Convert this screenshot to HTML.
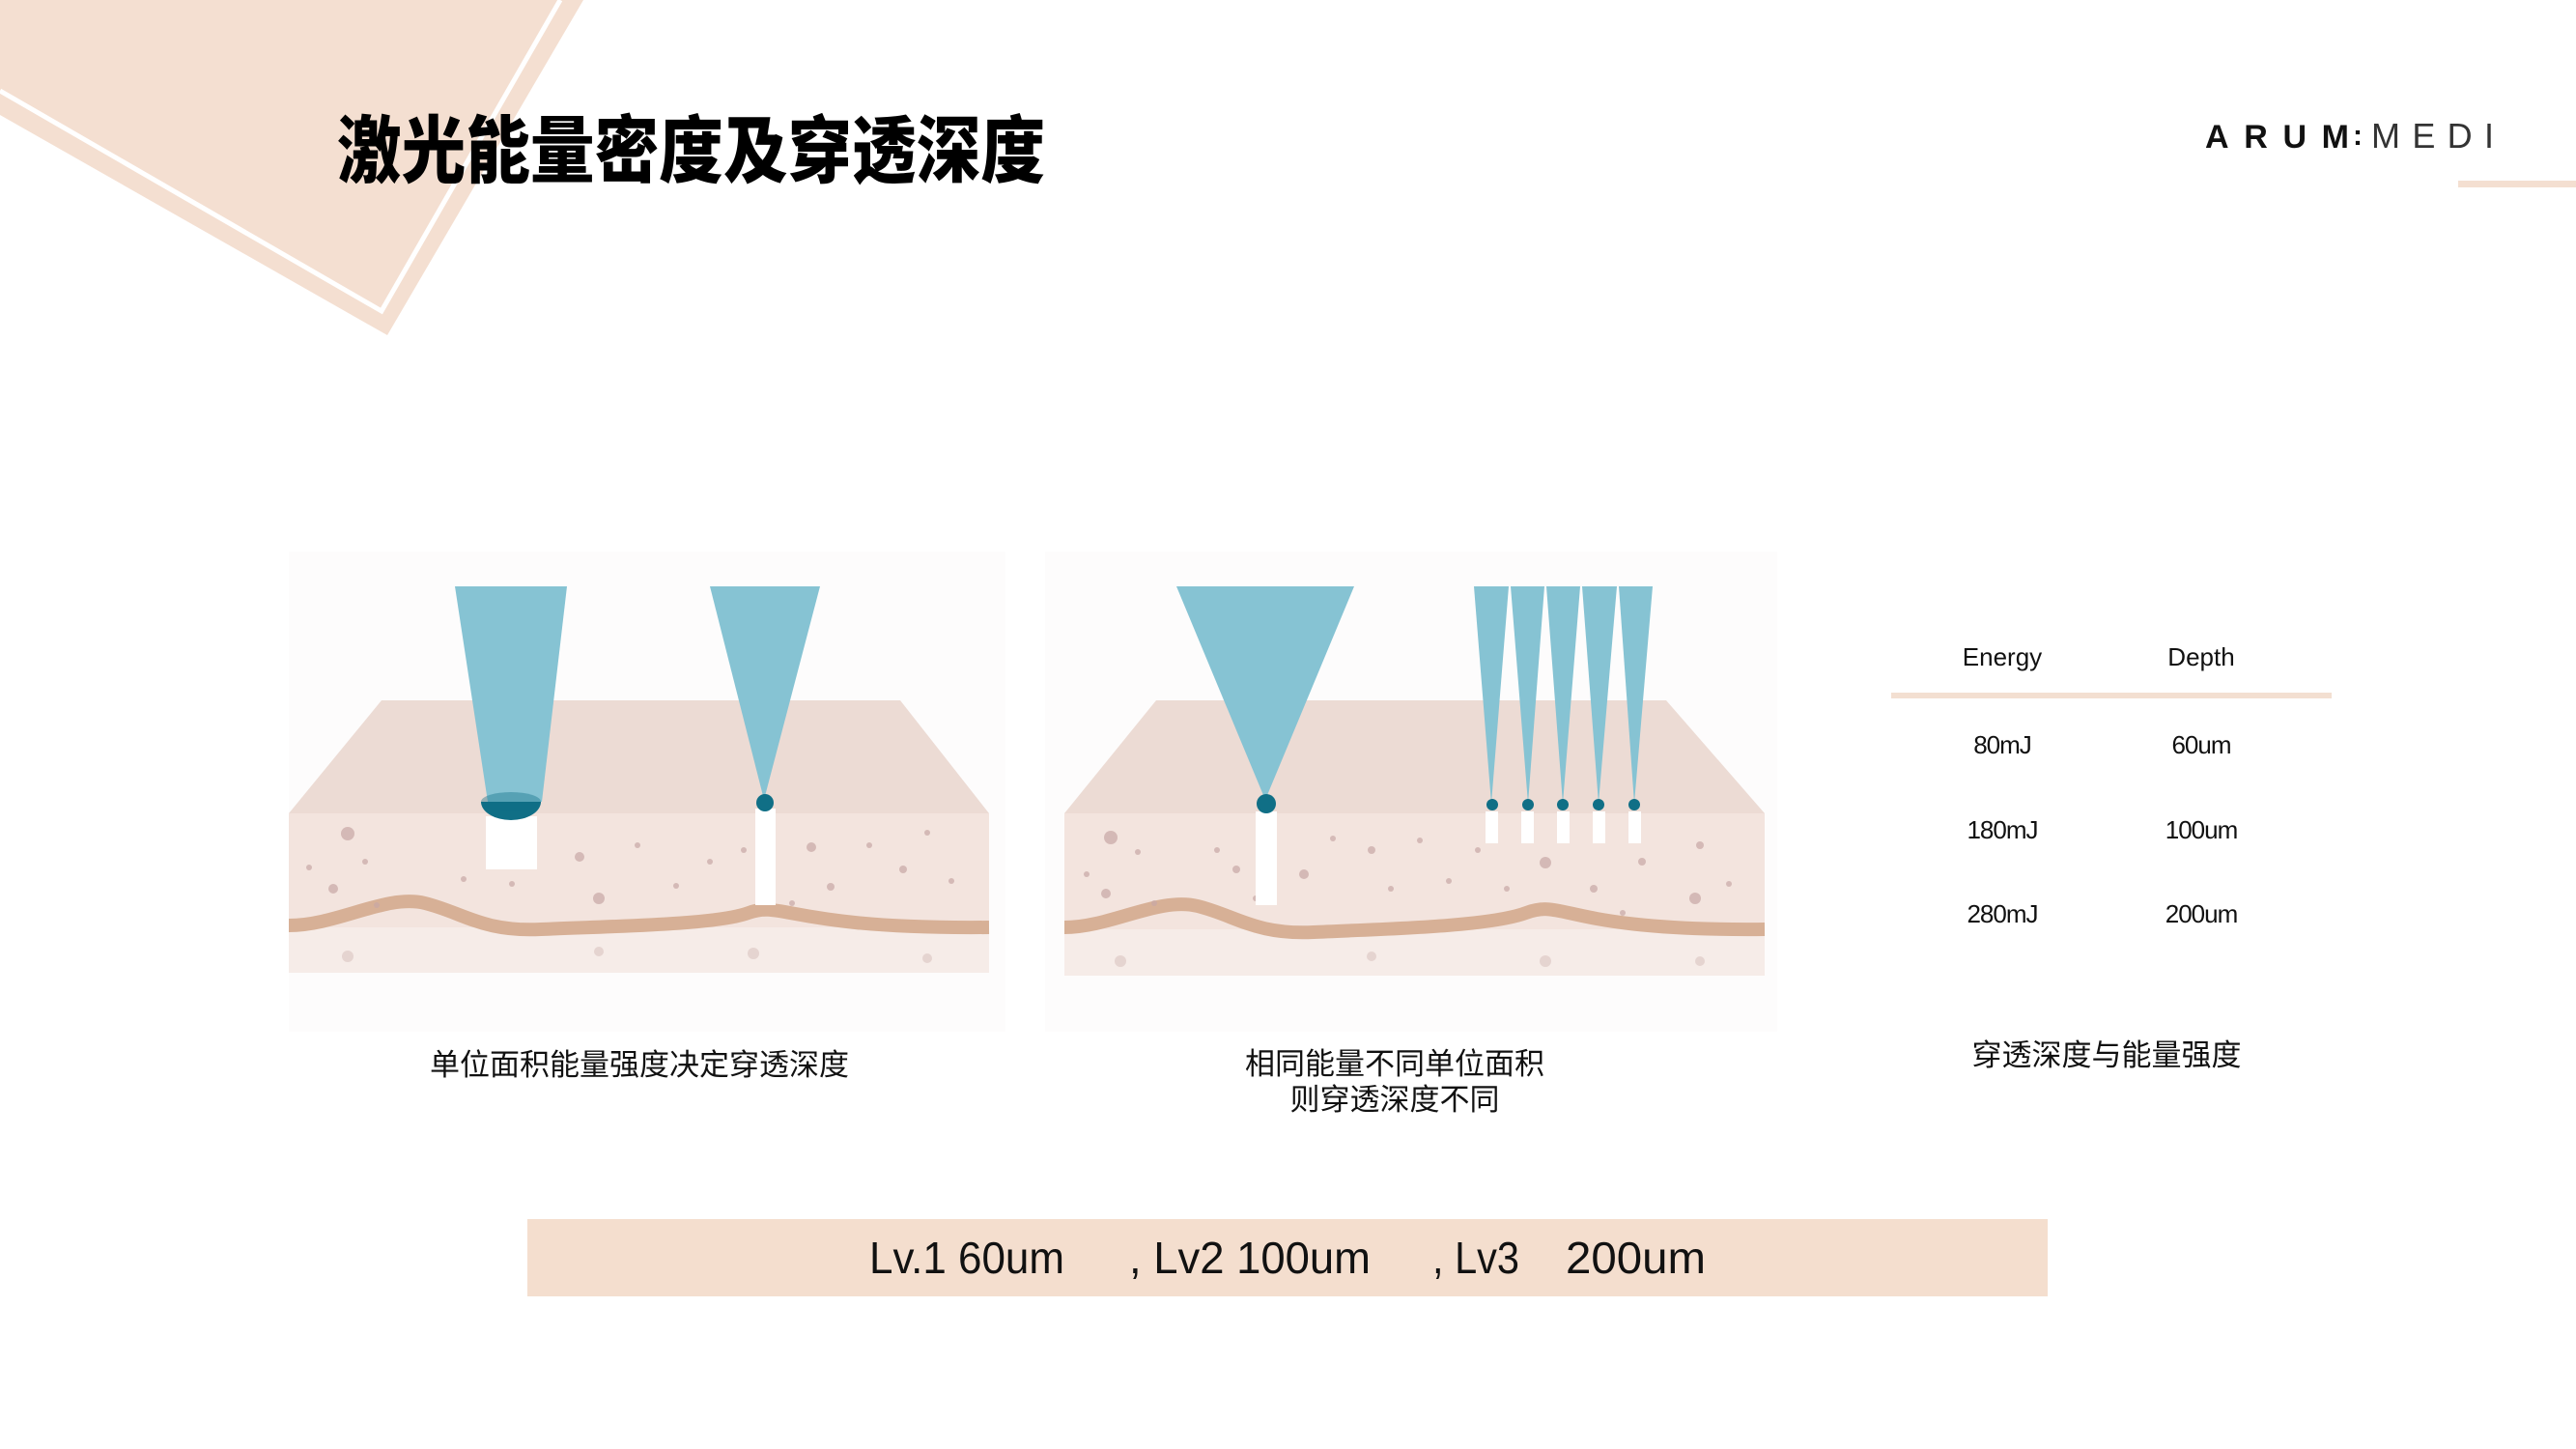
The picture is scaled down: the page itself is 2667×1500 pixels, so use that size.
<!DOCTYPE html>
<html><head><meta charset="utf-8"><style>
html,body{margin:0;padding:0;background:#fff;}
svg{display:block;}
text{font-family:"Liberation Sans","Noto Sans CJK SC",sans-serif;}
</style></head><body>
<svg width="2667" height="1500" viewBox="0 0 2667 1500" xmlns="http://www.w3.org/2000/svg">
<polygon points="0,0 604,0 401,347 0,119" fill="#f4dfd1"/>
<polyline points="0,94 395,322 580,0" fill="none" stroke="#fff" stroke-width="5"/>
<text x="349" y="183" font-size="76" font-weight="900" textLength="733" lengthAdjust="spacingAndGlyphs" fill="#000" style="font-family:'Noto Sans CJK SC',sans-serif">激光能量密度及穿透深度</text>
<text x="2283" y="153" font-size="34" font-weight="bold" textLength="149" lengthAdjust="spacing" fill="#111">ARUM</text>
<text x="2436" y="150" font-size="30" font-weight="bold" fill="#111">:</text>
<text x="2455" y="153" font-size="36" textLength="127" lengthAdjust="spacing" fill="#333" style="font-weight:300">MEDI</text>
<rect x="2545" y="187" width="122" height="7" fill="#f4dfd1"/>

<rect x="299" y="571" width="742" height="497" fill="#fdfcfc"/>
<polygon points="395,725 932,725 1024,842 299,842" fill="#ecdbd4"/>
<rect x="299" y="842" width="725" height="165" fill="#f3e4de"/>
<rect x="299" y="960" width="725" height="47" fill="#f6ece8"/>
<path d="M299 958 C350 958,400 925,440 935 S500 965,560 962 S740 958,775 945 S820 962,1024 960" fill="none" stroke="#d7b096" stroke-width="14"/>
<g fill="#c8a8a6" opacity="0.7">
<circle cx="360" cy="863" r="7"/><circle cx="378" cy="892" r="3"/><circle cx="320" cy="898" r="3"/><circle cx="345" cy="920" r="5"/><circle cx="390" cy="937" r="3"/>
<circle cx="480" cy="910" r="3"/><circle cx="530" cy="915" r="3"/><circle cx="600" cy="887" r="5"/><circle cx="620" cy="930" r="6"/><circle cx="660" cy="875" r="3"/>
<circle cx="700" cy="917" r="3"/><circle cx="735" cy="892" r="3"/><circle cx="770" cy="880" r="3"/><circle cx="840" cy="877" r="5"/><circle cx="860" cy="918" r="4"/>
<circle cx="900" cy="875" r="3"/><circle cx="935" cy="900" r="4"/><circle cx="960" cy="862" r="3"/><circle cx="985" cy="912" r="3"/><circle cx="820" cy="935" r="3"/>
<circle cx="360" cy="990" r="6" opacity=".5"/><circle cx="620" cy="985" r="5" opacity=".5"/><circle cx="780" cy="987" r="6" opacity=".5"/><circle cx="960" cy="992" r="5" opacity=".5"/>
</g>
<polygon points="471,607 587,607 561,830 505,830" fill="#86c3d3"/>
<rect x="503" y="845" width="53" height="55" fill="#fff"/>
<path d="M498 830 A31 19 0 0 0 560 830 Z" fill="#106f86"/>
<ellipse cx="529" cy="830" rx="31" ry="10" fill="#106f86" opacity="0.4"/>
<polygon points="735,607 849,607 791,828" fill="#86c3d3"/>
<rect x="782" y="837" width="21" height="100" fill="#fff"/>
<circle cx="792" cy="831" r="9" fill="#106f86"/>
<text x="662" y="1113" font-size="31" text-anchor="middle" fill="#111">单位面积能量强度决定穿透深度</text>

<rect x="1082" y="571" width="758" height="497" fill="#fdfcfc"/>
<polygon points="1197,725 1725,725 1827,842 1102,842" fill="#ecdbd4"/>
<rect x="1102" y="842" width="725" height="168" fill="#f3e4de"/>
<rect x="1102" y="962" width="725" height="48" fill="#f6ece8"/>
<path d="M1102 960 C1150 960,1200 928,1240 938 S1300 968,1360 965 S1540 960,1580 945 S1620 964,1827 962" fill="none" stroke="#d7b096" stroke-width="14"/>
<g fill="#c8a8a6" opacity="0.7">
<circle cx="1150" cy="867" r="7"/><circle cx="1178" cy="882" r="3"/><circle cx="1125" cy="905" r="3"/><circle cx="1145" cy="925" r="5"/><circle cx="1195" cy="935" r="3"/>
<circle cx="1260" cy="880" r="3"/><circle cx="1280" cy="900" r="4"/><circle cx="1300" cy="930" r="3"/><circle cx="1350" cy="905" r="5"/><circle cx="1380" cy="868" r="3"/>
<circle cx="1420" cy="880" r="4"/><circle cx="1440" cy="920" r="3"/><circle cx="1470" cy="870" r="3"/><circle cx="1500" cy="912" r="3"/><circle cx="1530" cy="880" r="3"/>
<circle cx="1560" cy="920" r="3"/><circle cx="1600" cy="893" r="6"/><circle cx="1650" cy="920" r="4"/><circle cx="1700" cy="892" r="4"/><circle cx="1760" cy="875" r="4"/>
<circle cx="1790" cy="915" r="3"/><circle cx="1755" cy="930" r="6"/><circle cx="1680" cy="945" r="3"/>
<circle cx="1160" cy="995" r="6" opacity=".5"/><circle cx="1420" cy="990" r="5" opacity=".5"/><circle cx="1600" cy="995" r="6" opacity=".5"/><circle cx="1760" cy="995" r="5" opacity=".5"/>
</g>
<polygon points="1218,607 1402,607 1310,828" fill="#86c3d3"/>
<rect x="1300" y="840" width="22" height="97" fill="#fff"/>
<circle cx="1311" cy="832" r="10" fill="#106f86"/>
<g fill="#86c3d3">
<polygon points="1526,607 1562,607 1544,832"/>
<polygon points="1564,607 1599,607 1582,832"/>
<polygon points="1601,607 1636,607 1618,832"/>
<polygon points="1638,607 1674,607 1655,832"/>
<polygon points="1676,607 1711,607 1692,832"/>
</g>
<g fill="#fff">
<rect x="1538" y="840" width="13" height="33"/><rect x="1575" y="840" width="13" height="33"/><rect x="1612" y="840" width="13" height="33"/><rect x="1649" y="840" width="13" height="33"/><rect x="1686" y="840" width="13" height="33"/>
</g>
<g fill="#106f86">
<circle cx="1545" cy="833" r="6"/><circle cx="1582" cy="833" r="6"/><circle cx="1618" cy="833" r="6"/><circle cx="1655" cy="833" r="6"/><circle cx="1692" cy="833" r="6"/>
</g>
<text x="1444" y="1112" font-size="31" text-anchor="middle" fill="#111">相同能量不同单位面积</text>
<text x="1444" y="1149" font-size="31" text-anchor="middle" fill="#111">则穿透深度不同</text>

<text x="2073" y="689" font-size="26" text-anchor="middle" fill="#111">Energy</text>
<text x="2279" y="689" font-size="26" text-anchor="middle" fill="#111">Depth</text>
<rect x="1958" y="717" width="456" height="6" fill="#f3dfd1"/>
<text x="2073" y="780" font-size="26" text-anchor="middle" fill="#111" letter-spacing="-1">80mJ</text>
<text x="2279" y="780" font-size="26" text-anchor="middle" fill="#111" letter-spacing="-1">60um</text>
<text x="2073" y="868" font-size="26" text-anchor="middle" fill="#111" letter-spacing="-1">180mJ</text>
<text x="2279" y="868" font-size="26" text-anchor="middle" fill="#111" letter-spacing="-1">100um</text>
<text x="2073" y="955" font-size="26" text-anchor="middle" fill="#111" letter-spacing="-1">280mJ</text>
<text x="2279" y="955" font-size="26" text-anchor="middle" fill="#111" letter-spacing="-1">200um</text>
<text x="2181" y="1103" font-size="31" text-anchor="middle" fill="#111">穿透深度与能量强度</text>

<rect x="546" y="1262" width="1574" height="80" fill="#f4dece"/>
<g font-size="46" fill="#111">
<text x="900" y="1318" textLength="202" lengthAdjust="spacingAndGlyphs">Lv.1 60um</text>
<text x="1169" y="1318" textLength="250" lengthAdjust="spacingAndGlyphs">, Lv2 100um</text>
<text x="1483" y="1318" textLength="90" lengthAdjust="spacingAndGlyphs">, Lv3</text>
<text x="1621" y="1318" textLength="145" lengthAdjust="spacingAndGlyphs">200um</text>
</g>
</svg>
</body></html>
